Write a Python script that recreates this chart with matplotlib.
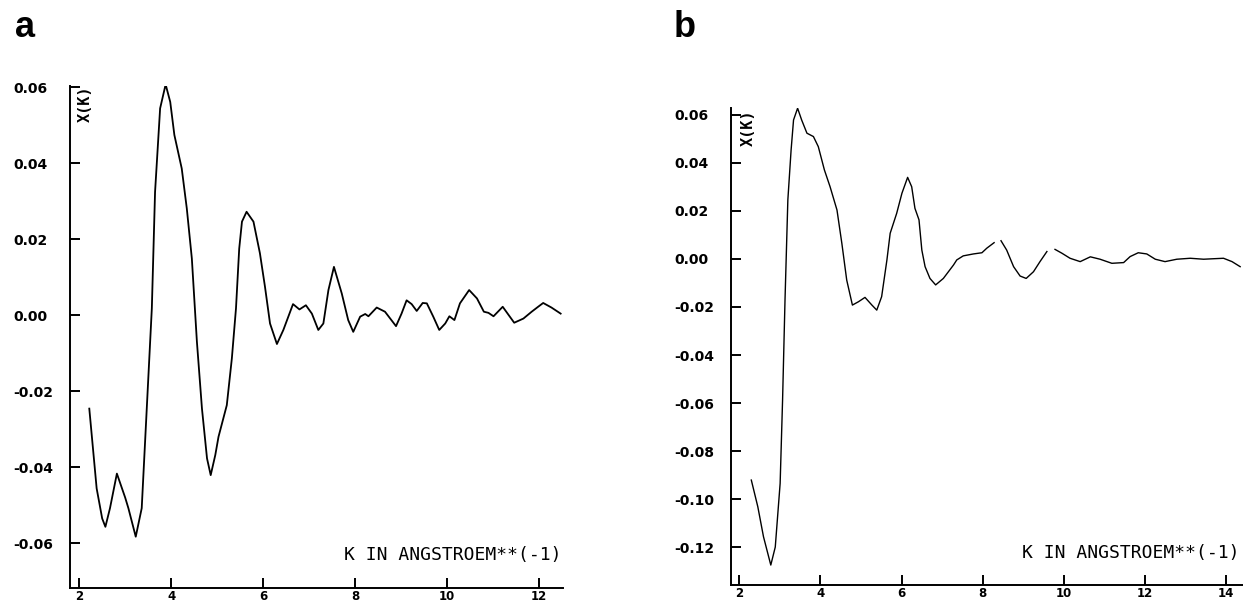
import numpy as np
import matplotlib.pyplot as plt

# EXAFS chi(k) traces
k_a = [2.22, 2.38, 2.50, 2.57, 2.67, 2.82, 3.00, 3.07, 3.23, 3.36, 3.47, 3.58,
       3.65, 3.76, 3.88, 3.98, 4.07, 4.23, 4.34, 4.45, 4.56, 4.67, 4.78, 4.86,
       4.96, 5.03, 5.21, 5.32, 5.41, 5.48, 5.54, 5.64, 5.79, 5.93, 6.04, 6.15,
       6.30, 6.44, 6.65, 6.79, 6.93, 7.06, 7.20, 7.31, 7.42, 7.54, 7.71, 7.85,
       7.96, 8.11, 8.22, 8.29, 8.47, 8.65, 8.89, 9.01, 9.12, 9.23, 9.34, 9.47,
       9.56, 9.70, 9.83, 9.96, 10.05, 10.16, 10.28, 10.48, 10.65, 10.80, 10.90,
       11.01, 11.21, 11.46, 11.66, 11.84, 11.98, 12.09, 12.27, 12.47]
chi_a = [-0.0246, -0.0456, -0.0535, -0.0557, -0.0508, -0.0417, -0.0480, -0.0508,
         -0.0583, -0.0508, -0.0245, 0.0018, 0.0324, 0.0544, 0.0607, 0.0561,
         0.0474, 0.0386, 0.0281, 0.0149, -0.0070, -0.0246, -0.0377, -0.0421,
         -0.0368, -0.0320, -0.0237, -0.0114, 0.0018, 0.0175, 0.0246, 0.0272,
         0.0246, 0.0163, 0.0075, -0.0022, -0.0076, -0.0039, 0.0029, 0.0015,
         0.0026, 0.0004, -0.0039, -0.0022, 0.0066, 0.0127, 0.0057, -0.0013,
         -0.0044, -0.0004, 0.0003, -0.0003, 0.0020, 0.0009, -0.0029, 0.0004,
         0.0039, 0.0029, 0.0011, 0.0032, 0.0031, -0.0004, -0.0039, -0.0022,
         -0.0003, -0.0013, 0.0031, 0.0066, 0.0044, 0.0009, 0.0006, -0.0003,
         0.0022, -0.0020, -0.0009, 0.0009, 0.0022, 0.0032, 0.0020, 0.0004]

# nan = pen lift in the original plot
k_b = [2.30, 2.46, 2.60, 2.78, 2.89, 3.01, 3.07, 3.13, 3.20, 3.28, 3.34, 3.44,
       3.54, 3.67, 3.83, 3.95, 4.10, 4.24, 4.41, 4.53, 4.65, 4.79, 4.94, 5.10,
       5.27, 5.39, 5.51, 5.64, 5.72, 5.88, 6.01, 6.15, 6.25, 6.33, 6.43, 6.50,
       6.58, 6.70, 6.84, 7.03, 7.28, 7.36, 7.52, 7.77, 7.98, 8.10, 8.28, 8.36,
       8.45, 8.59, 8.76, 8.92, 9.07, 9.25, 9.41, 9.58, 9.68, 9.78, 9.95, 10.15,
       10.40, 10.65, 10.89, 11.18, 11.47, 11.63, 11.83, 12.04, 12.25, 12.49,
       12.78, 13.11, 13.44, 13.68, 13.93, 14.14, 14.34]
chi_b = [-0.0921, -0.1032, -0.1157, -0.1275, -0.1200, -0.0935, -0.0588, -0.0171,
         0.0246, 0.0454, 0.0579, 0.0628, 0.0579, 0.0524, 0.0510, 0.0468, 0.0371,
         0.0301, 0.0204, 0.0065, -0.0088, -0.0192, -0.0178, -0.0160, -0.0192,
         -0.0213, -0.0157, -0.0004, 0.0107, 0.0190, 0.0274, 0.0340, 0.0301,
         0.0211, 0.0163, 0.0037, -0.0032, -0.0081, -0.0108, -0.0081, -0.0025,
         -0.0004, 0.0013, 0.0021, 0.0026, 0.0045, 0.0068, np.nan, 0.0076, 0.0037,
         -0.0032, -0.0071, -0.0081, -0.0053, -0.0011, 0.0031, np.nan, 0.0040,
         0.0024, 0.0003, -0.0011, 0.0009, -0.0001, -0.0018, -0.0015, 0.0010,
         0.0026, 0.0021, -0.0001, -0.0011, -0.0001, 0.0003, -0.0001, 0.0001,
         0.0003, -0.0011, -0.0032]

yticks_a = [-0.06, -0.04, -0.02, 0.00, 0.02, 0.04, 0.06]
yticks_b = [-0.12, -0.10, -0.08, -0.06, -0.04, -0.02, 0.00, 0.02, 0.04, 0.06]
xticks_a = [2, 4, 6, 8, 10, 12]
xticks_b = [2, 4, 6, 8, 10, 12, 14]

xlabel_txt = "K IN ANGSTROEM**(-1)"
ylabel_txt = "X(K)"

fig = plt.figure(figsize=(12.43, 6.05), dpi=100)

ax_a = fig.add_axes([0.0563, 0.0281, 0.3966, 0.8298])
ax_b = fig.add_axes([0.5881, 0.0331, 0.4119, 0.7884])


def style_axis(ax, xticks, yticks, xlim, ylim):
    ax.set_xlim(*xlim)
    ax.set_ylim(*ylim)
    for s in ["top", "right"]:
        ax.spines[s].set_visible(False)
    for s in ["left", "bottom"]:
        ax.spines[s].set_linewidth(1.4)
    ax.set_xticks(xticks)
    ax.set_yticks(yticks)
    ax.set_yticklabels([f"{v:.2f}" for v in yticks])
    ax.tick_params(axis="both", direction="in", length=7, width=1.4)
    ax.tick_params(axis="y", pad=41, labelsize=10)
    ax.tick_params(axis="x", pad=1.5, labelsize=8.5)
    for lab in ax.get_yticklabels():
        lab.set_horizontalalignment("left")
        lab.set_fontweight("bold")
    for lab in ax.get_xticklabels():
        lab.set_fontweight("bold")


# panel a
ax_a.plot(k_a, chi_a, color="black", lw=1.3)
style_axis(ax_a, xticks_a, yticks_a, (1.80, 12.52), (-0.0718, 0.0603))
ax_a.text(0.998, 0.066, xlabel_txt, transform=ax_a.transAxes, ha="right",
          va="center", family="DejaVu Sans Mono", fontsize=13)
ax_a.text(0.032, 1.0, ylabel_txt, transform=ax_a.transAxes, rotation=90,
          ha="center", va="top", family="DejaVu Sans Mono", fontweight="bold",
          fontsize=11)
fig.text(15 / 1243, 1 - 37 / 605, "a", fontsize=26, fontweight="bold",
         family="Liberation Sans", ha="left", va="baseline")

# panel b
ax_b.plot(k_b, chi_b, color="black", lw=1.0)
style_axis(ax_b, xticks_b, yticks_b, (1.80, 14.41), (-0.1358, 0.0629))
ax_b.text(0.994, 0.067, xlabel_txt, transform=ax_b.transAxes, ha="right",
          va="center", family="DejaVu Sans Mono", fontsize=13)
ax_b.text(0.033, 0.996, ylabel_txt, transform=ax_b.transAxes, rotation=90,
          ha="center", va="top", family="DejaVu Sans Mono", fontweight="bold",
          fontsize=11)
fig.text(674 / 1243, 1 - 37 / 605, "b", fontsize=26, fontweight="bold",
         family="Liberation Sans", ha="left", va="baseline")

fig.savefig("out.png", dpi=100)
